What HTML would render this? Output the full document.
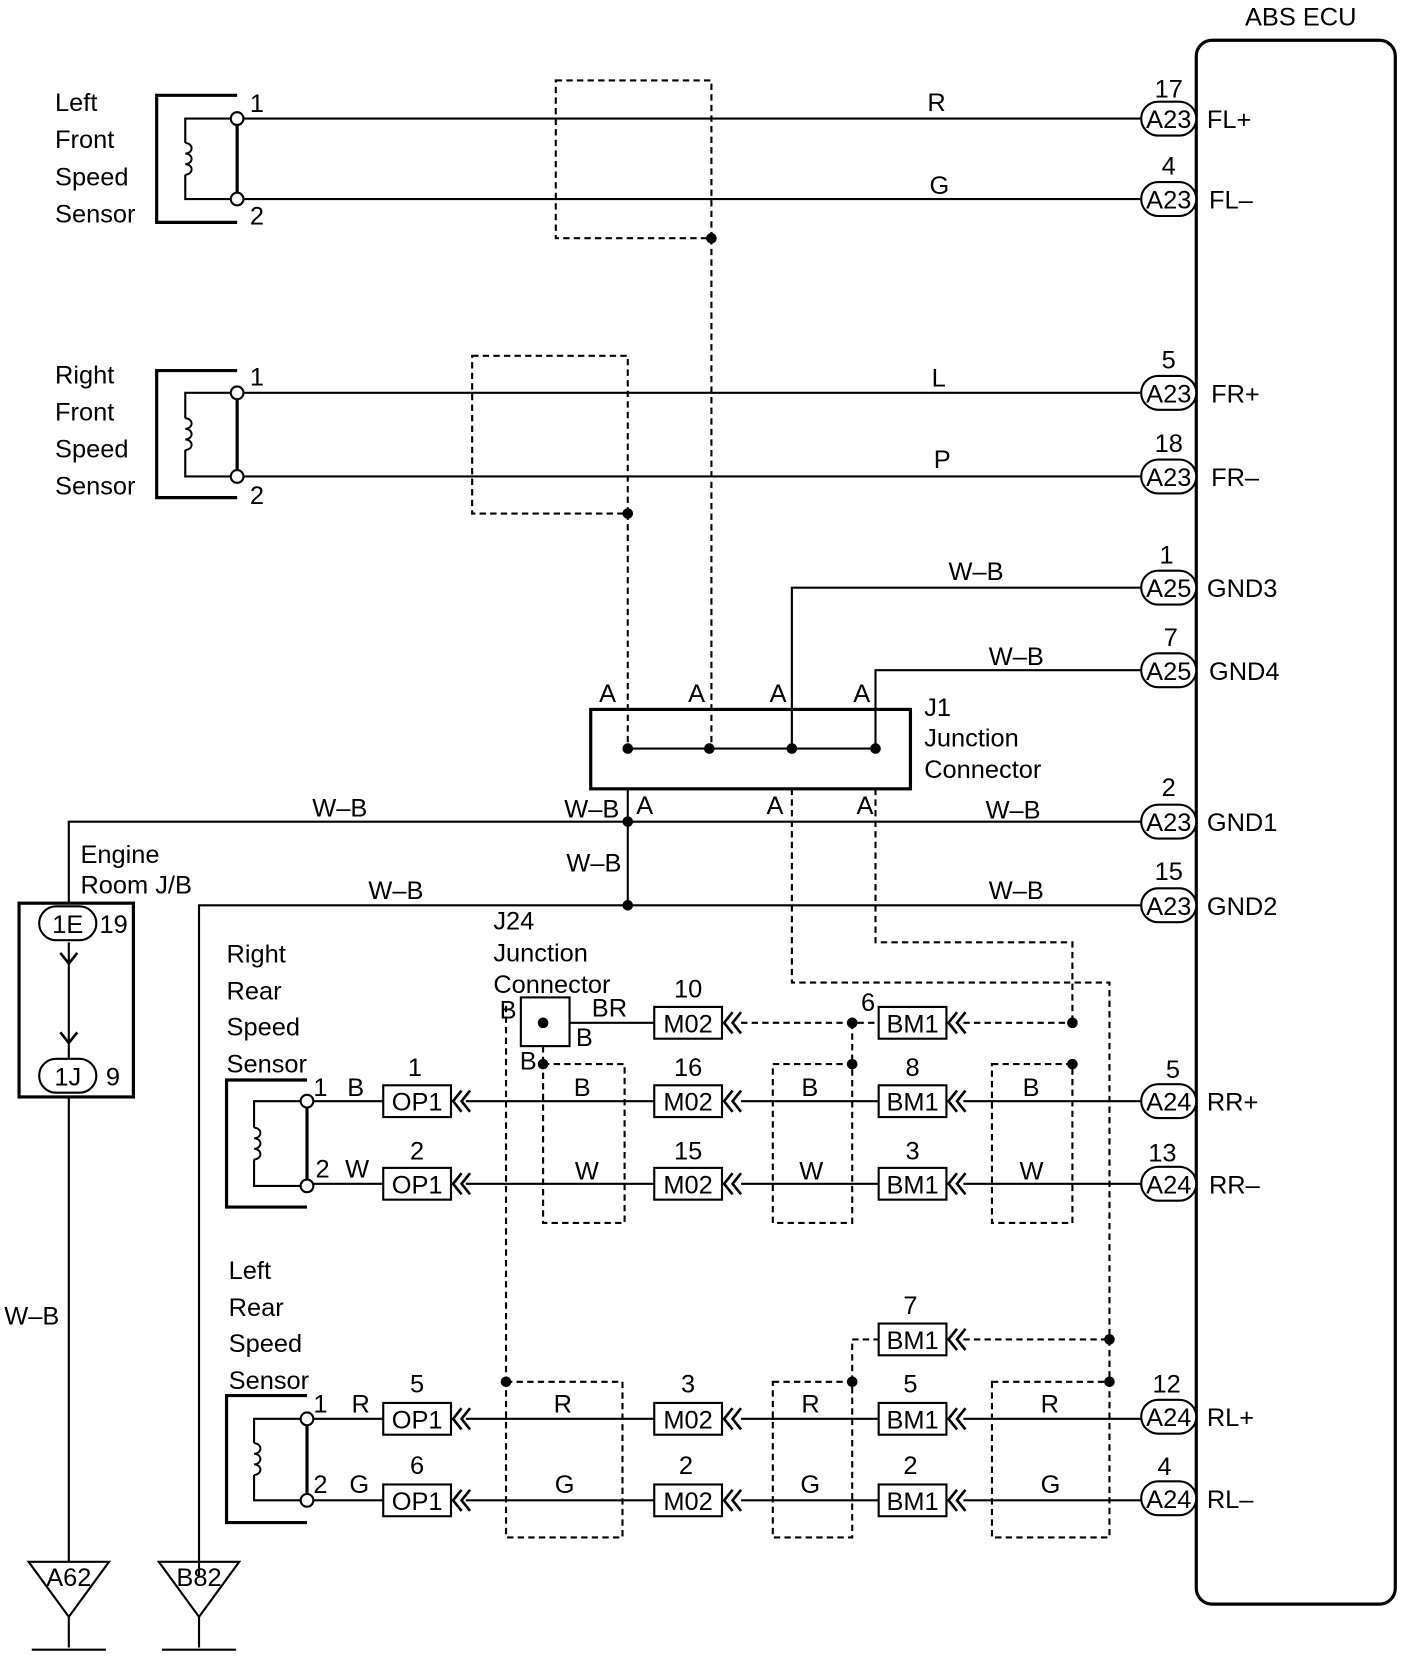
<!DOCTYPE html>
<html><head><meta charset="utf-8"><style>html,body{margin:0;padding:0;background:#fff}svg{display:block}text{font-family:"Liberation Sans",sans-serif;font-size:24px;fill:#000}</style></head><body>
<svg width="1408" height="1656" viewBox="0 0 1330 1564" preserveAspectRatio="none" xmlns="http://www.w3.org/2000/svg">
<defs>
<path id="coil" d="M0,0 a6,5 0 1 1 0,10 a6,5 0 1 1 0,10 a6,5 0 1 1 0,10" fill="none" stroke="#000" stroke-width="1.8"/>
</defs>
<g stroke="#000" stroke-width="2" fill="none">
<rect x="1130" y="38" width="188" height="1477" rx="15" stroke-width="3"/>
<path d="M224,90 H148 V210 H224 M224,112 V188" stroke-width="3"/>
<path d="M224,350 H148 V470 H224 M224,371 V450" stroke-width="3"/>
<path d="M290,1020 H214 V1140 H290 M290,1040 V1120" stroke-width="3"/>
<path d="M290,1318 H214 V1438 H290 M290,1340 V1417" stroke-width="3"/>
<path d="M224,112 H175 V135 M175,165 V188 H224"/>
<path d="M224,371 H175 V395 M175,425 V450 H224"/>
<path d="M290,1040 H240 V1065 M240,1095 V1120 H290"/>
<path d="M290,1340 H240 V1363 M240,1393 V1417 H290"/>
<path d="M224,112 H1078 M224,188 H1078 M224,371 H1078 M224,450 H1078"/>
<path d="M1078,555 H748 V707 M1078,633 H827 V707 M593,707 H827"/>
<path d="M65,853 V776 H1078 M593,745 V855 M188,1490 V855 H1078"/>
<path d="M65,1036 V1475 M65,890 V1000"/>
<path d="M290,1040 H362 M290,1118 H362 M290,1340 H362 M290,1417 H362"/>
<path d="M440,1040 H618 M700,1040 H830 M910,1040 H1078"/>
<path d="M440,1118 H618 M700,1118 H830 M910,1118 H1078"/>
<path d="M440,1340 H618 M700,1340 H830 M910,1340 H1078"/>
<path d="M440,1417 H618 M700,1417 H830 M910,1417 H1078"/>
<path d="M538,966 H618"/>
<rect x="558" y="670" width="302" height="75" stroke-width="3"/>
<rect x="18" y="853" width="108" height="183" stroke-width="3"/>
<rect x="492" y="942" width="46" height="46"/>
<path d="M27,1475 H103 L65,1527 Z M65,1527 V1556 M30,1558 H100"/>
<path d="M150,1475 H226 L188,1527 Z M188,1527 V1556 M153,1558 H223"/>
</g>
<use href="#coil" x="175" y="135"/><use href="#coil" x="175" y="395"/>
<use href="#coil" x="240" y="1065"/><use href="#coil" x="240" y="1363"/>
<g stroke="#000" stroke-width="2" fill="none" stroke-dasharray="6,4">
<rect x="525" y="76" width="147" height="149"/>
<path d="M672,225 V707"/>
<rect x="446" y="336" width="147" height="149"/>
<path d="M593,485 V707"/>
<path d="M748,745 V928 H1048 V1305 M827,745 V890 H1013 V966"/>
<path d="M700,966 H830 M910,966 H1013 M805,966 V1005 M513,988 V1005 M478,950 V1305"/>
<rect x="513" y="1005" width="77" height="150"/>
<rect x="730" y="1005" width="75" height="150"/>
<rect x="937" y="1005" width="76" height="150"/>
<rect x="478" y="1305" width="110" height="147"/>
<rect x="730" y="1305" width="75" height="147"/>
<rect x="937" y="1305" width="111" height="147"/>
<path d="M805,1305 V1265 H830 M910,1265 H1048"/>
</g>
<g fill="#000">
<circle cx="672" cy="225" r="5"/><circle cx="593" cy="485" r="5"/>
<circle cx="593" cy="707" r="5"/><circle cx="670" cy="707" r="5"/><circle cx="748" cy="707" r="5"/><circle cx="827" cy="707" r="5"/>
<circle cx="593" cy="776" r="5"/><circle cx="593" cy="855" r="5"/>
<circle cx="513" cy="966" r="5"/><circle cx="805" cy="966" r="5"/><circle cx="1013" cy="966" r="5"/>
<circle cx="805" cy="1005" r="5"/><circle cx="1013" cy="1005" r="5"/><circle cx="513" cy="1005" r="5"/>
<circle cx="478" cy="1305" r="5"/><circle cx="805" cy="1305" r="5"/><circle cx="1048" cy="1305" r="5"/><circle cx="1048" cy="1265" r="5"/>
</g>
<g fill="#fff" stroke="#000" stroke-width="2">
<circle cx="224" cy="112" r="6"/><circle cx="224" cy="188" r="6"/><circle cx="224" cy="371" r="6"/><circle cx="224" cy="450" r="6"/>
<circle cx="290" cy="1040" r="6"/><circle cx="290" cy="1120" r="6"/><circle cx="290" cy="1340" r="6"/><circle cx="290" cy="1417" r="6"/>
<rect x="1078" y="96" width="52" height="32" rx="16"/><rect x="1078" y="172" width="52" height="32" rx="16"/>
<rect x="1078" y="355" width="52" height="32" rx="16"/><rect x="1078" y="434" width="52" height="32" rx="16"/>
<rect x="1078" y="539" width="52" height="32" rx="16"/><rect x="1078" y="617" width="52" height="32" rx="16"/>
<rect x="1078" y="760" width="52" height="32" rx="16"/><rect x="1078" y="839" width="52" height="32" rx="16"/>
<rect x="1078" y="1024" width="52" height="32" rx="16"/><rect x="1078" y="1102" width="52" height="32" rx="16"/>
<rect x="1078" y="1322" width="52" height="32" rx="16"/><rect x="1078" y="1399" width="52" height="32" rx="16"/>
<rect x="37" y="856" width="54" height="32" rx="16"/><rect x="37" y="1000" width="54" height="32" rx="16"/>
<rect x="362" y="1025" width="64" height="30"/><rect x="362" y="1103" width="64" height="30"/>
<rect x="362" y="1325" width="64" height="30"/><rect x="362" y="1402" width="64" height="30"/>
<rect x="618" y="951" width="64" height="30"/><rect x="618" y="1025" width="64" height="30"/><rect x="618" y="1103" width="64" height="30"/>
<rect x="618" y="1325" width="64" height="30"/><rect x="618" y="1402" width="64" height="30"/>
<rect x="830" y="951" width="64" height="30"/><rect x="830" y="1025" width="64" height="30"/><rect x="830" y="1103" width="64" height="30"/>
<rect x="830" y="1250" width="64" height="30"/><rect x="830" y="1325" width="64" height="30"/><rect x="830" y="1402" width="64" height="30"/>
</g>
<g stroke="#000" stroke-width="2.5" fill="none">
<path d="M436,1030 l-8,10 l8,10 M444,1030 l-8,10 l8,10 M436,1108 l-8,10 l8,10 M444,1108 l-8,10 l8,10 M436,1330 l-8,10 l8,10 M444,1330 l-8,10 l8,10 M436,1407 l-8,10 l8,10 M444,1407 l-8,10 l8,10"/>
<path d="M692,956 l-8,10 l8,10 M700,956 l-8,10 l8,10 M692,1030 l-8,10 l8,10 M700,1030 l-8,10 l8,10 M692,1108 l-8,10 l8,10 M700,1108 l-8,10 l8,10 M692,1330 l-8,10 l8,10 M700,1330 l-8,10 l8,10 M692,1407 l-8,10 l8,10 M700,1407 l-8,10 l8,10"/>
<path d="M904,956 l-8,10 l8,10 M912,956 l-8,10 l8,10 M904,1030 l-8,10 l8,10 M912,1030 l-8,10 l8,10 M904,1108 l-8,10 l8,10 M912,1108 l-8,10 l8,10 M904,1255 l-8,10 l8,10 M912,1255 l-8,10 l8,10 M904,1330 l-8,10 l8,10 M912,1330 l-8,10 l8,10 M904,1407 l-8,10 l8,10 M912,1407 l-8,10 l8,10"/>
<path d="M57,900 l8,10 l8,-10 M57,975 l8,10 l8,-10"/>
</g>
<g>
<text x="1176" y="24">ABS ECU</text>
<text x="52" y="105">Left</text><text x="52" y="140">Front</text><text x="52" y="175">Speed</text><text x="52" y="210">Sensor</text>
<text x="52" y="362">Right</text><text x="52" y="397">Front</text><text x="52" y="432">Speed</text><text x="52" y="467">Sensor</text>
<text x="236" y="106">1</text><text x="236" y="212">2</text><text x="236" y="364">1</text><text x="236" y="476">2</text>
<text x="876" y="105">R</text><text x="878" y="183">G</text><text x="880" y="365">L</text><text x="882" y="442">P</text>
<g text-anchor="middle" font-size="22">
<text x="1104" y="92">17</text><text x="1104" y="165">4</text><text x="1104" y="348">5</text><text x="1104" y="427">18</text>
<text x="1102" y="532">1</text><text x="1106" y="610">7</text><text x="1104" y="752">2</text><text x="1104" y="831">15</text>
<text x="1108" y="1018">5</text><text x="1098" y="1097">13</text><text x="1102" y="1315">12</text><text x="1100" y="1393">4</text>
</g>
<g text-anchor="middle">
<text x="1104" y="121">A23</text><text x="1104" y="197">A23</text><text x="1104" y="380">A23</text><text x="1104" y="459">A23</text>
<text x="1104" y="564">A25</text><text x="1104" y="642">A25</text><text x="1104" y="785">A23</text><text x="1104" y="864">A23</text>
<text x="1104" y="1049">A24</text><text x="1104" y="1127">A24</text><text x="1104" y="1347">A24</text><text x="1104" y="1424">A24</text>
<text x="64" y="881">1E</text><text x="64" y="1025">1J</text>
<text x="65" y="1498" font-size="21">A62</text><text x="188" y="1498" font-size="21">B82</text>
<text x="394" y="1049">OP1</text><text x="394" y="1127">OP1</text><text x="394" y="1349">OP1</text><text x="394" y="1426">OP1</text>
<text x="650" y="975">M02</text><text x="650" y="1049">M02</text><text x="650" y="1127">M02</text><text x="650" y="1349">M02</text><text x="650" y="1426">M02</text>
<text x="862" y="975">BM1</text><text x="862" y="1049">BM1</text><text x="862" y="1127">BM1</text><text x="862" y="1274">BM1</text><text x="862" y="1349">BM1</text><text x="862" y="1426">BM1</text>
<text x="392" y="1016">1</text><text x="394" y="1095">2</text><text x="394" y="1315">5</text><text x="394" y="1392">6</text>
<text x="650" y="942">10</text><text x="650" y="1016">16</text><text x="650" y="1095">15</text><text x="650" y="1315">3</text><text x="648" y="1392">2</text>
<text x="820" y="955">6</text><text x="862" y="1016">8</text><text x="862" y="1095">3</text><text x="860" y="1241">7</text><text x="860" y="1315">5</text><text x="860" y="1392">2</text>
</g>
<text x="1140" y="121">FL+</text><text x="1142" y="197">FL–</text><text x="1144" y="380">FR+</text><text x="1144" y="459">FR–</text>
<text x="1140" y="564">GND3</text><text x="1142" y="642">GND4</text><text x="1140" y="785">GND1</text><text x="1140" y="864">GND2</text>
<text x="1140" y="1049">RR+</text><text x="1142" y="1127">RR–</text><text x="1140" y="1347">RL+</text><text x="1140" y="1424">RL–</text>
<text x="896" y="548">W–B</text><text x="934" y="628">W–B</text>
<text x="566" y="663">A</text><text x="650" y="663">A</text><text x="727" y="663">A</text><text x="806" y="663">A</text>
<text x="601" y="769">A</text><text x="724" y="769">A</text><text x="809" y="769">A</text>
<text x="873" y="676">J1</text><text x="873" y="705">Junction</text><text x="873" y="735">Connector</text>
<text x="295" y="771">W–B</text><text x="533" y="772">W–B</text><text x="931" y="773">W–B</text>
<text x="535" y="823">W–B</text><text x="348" y="849">W–B</text><text x="934" y="849">W–B</text>
<text x="76" y="815">Engine</text><text x="76" y="844">Room J/B</text>
<text x="94" y="881" font-size="22">19</text><text x="100" y="1025" font-size="22">9</text>
<text x="4" y="1251">W–B</text>
<text x="466" y="878">J24</text><text x="466" y="908">Junction</text><text x="466" y="938">Connector</text>
<text x="472" y="962">B</text><text x="559" y="960">BR</text><text x="544" y="988">B</text><text x="491" y="1010">B</text>
<text x="214" y="909">Right</text><text x="214" y="944">Rear</text><text x="214" y="978">Speed</text><text x="214" y="1013">Sensor</text>
<text x="216" y="1208">Left</text><text x="216" y="1243">Rear</text><text x="216" y="1277">Speed</text><text x="216" y="1312">Sensor</text>
<text x="296" y="1035">1</text><text x="328" y="1035">B</text><text x="298" y="1112">2</text><text x="326" y="1112">W</text>
<text x="296" y="1334">1</text><text x="332" y="1334">R</text><text x="296" y="1410">2</text><text x="330" y="1410">G</text>
<text x="542" y="1035">B</text><text x="757" y="1035">B</text><text x="966" y="1035">B</text>
<text x="543" y="1114">W</text><text x="755" y="1114">W</text><text x="963" y="1114">W</text>
<text x="523" y="1334">R</text><text x="757" y="1334">R</text><text x="983" y="1334">R</text>
<text x="524" y="1410">G</text><text x="756" y="1410">G</text><text x="983" y="1410">G</text>
</g>
</svg>
</body></html>
